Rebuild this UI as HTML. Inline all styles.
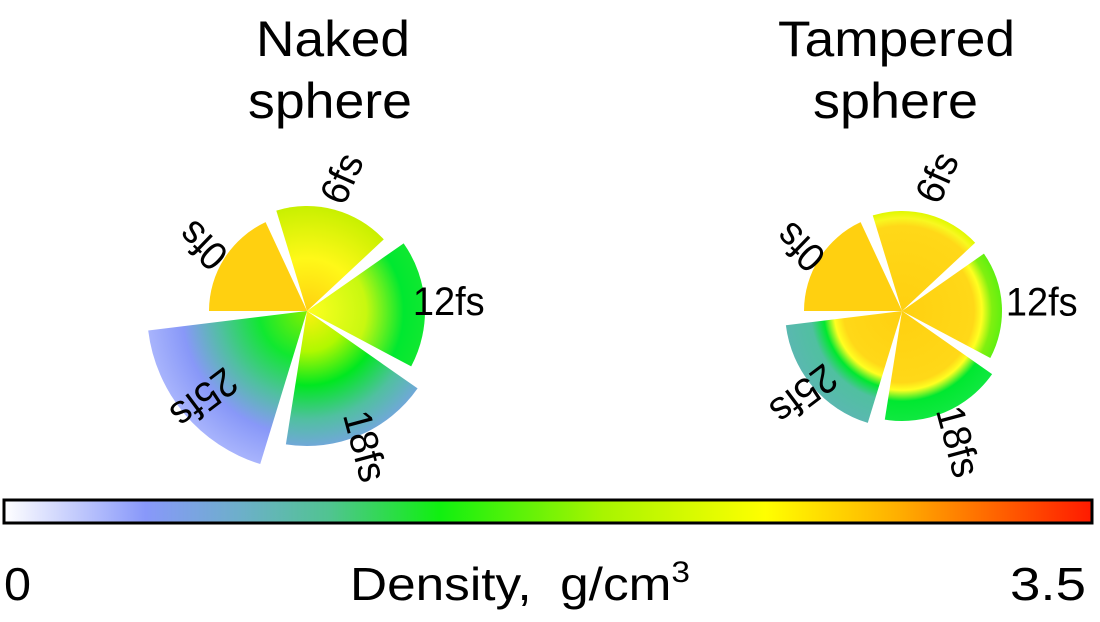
<!DOCTYPE html>
<html><head><meta charset="utf-8"><style>
html,body{margin:0;padding:0;background:#fff;}
svg{display:block;font-family:"Liberation Sans",sans-serif;}
</style></head><body>
<svg id="chart" width="1100" height="622" viewBox="0 0 1100 622" xmlns="http://www.w3.org/2000/svg">
<defs>
<linearGradient id="cbar" x1="0" x2="1" y1="0" y2="0">
<stop offset="0" stop-color="#ffffff"/><stop offset="0.13" stop-color="#8898fa"/><stop offset="0.22" stop-color="#6cb0c8"/><stop offset="0.3" stop-color="#50c490"/><stop offset="0.4" stop-color="#10f010"/><stop offset="0.55" stop-color="#a8f400"/><stop offset="0.7" stop-color="#ffff00"/><stop offset="0.82" stop-color="#ffb000"/><stop offset="1" stop-color="#ff1a00"/>
</linearGradient>
</defs>
<g id="titles" font-size="50">
<text x="256" y="56" textLength="154" lengthAdjust="spacingAndGlyphs">Naked</text>
<text x="248" y="118" textLength="164" lengthAdjust="spacingAndGlyphs">sphere</text>
<text x="778" y="56" textLength="237" lengthAdjust="spacingAndGlyphs">Tampered</text>
<text x="813" y="118" textLength="165" lengthAdjust="spacingAndGlyphs">sphere</text>
</g>
<g id="pies"></g>
<rect x="4" y="500" width="1088" height="23" fill="url(#cbar)" stroke="#000" stroke-width="3"/>
<text x="4" y="600" font-size="46" textLength="27" lengthAdjust="spacingAndGlyphs">0</text>
<text x="350" y="600" font-size="46" xml:space="preserve" textLength="340" lengthAdjust="spacingAndGlyphs">Density,  g/cm<tspan font-size="30" dy="-18">3</tspan></text>
<text x="1010" y="600" font-size="46" textLength="76" lengthAdjust="spacingAndGlyphs">3.5</text>
</svg>
<script>
const times = ["0fs","6fs","12fs","18fs","25fs"];
const startAngles = [180,253,325,35,107];
const endAngles = [245,317,28,99,173];
const nakedRadii = [98,105,118,135,160];
const tamperedRadii = [98,100,100,110,117];
const nakedColors = [
 [[0,"#ffd010"],[1,"#ffd010"]],
 [[0,"#ffd010"],[0.5,"#fff818"],[1,"#c8f000"]],
 [[0,"#ffff20"],[0.5,"#c8f810"],[0.82,"#00e830"],[1,"#10e830"]],
 [[0,"#fff010"],[0.3,"#b0f800"],[0.55,"#00e820"],[0.8,"#50c0a0"],[1,"#70a8d8"]],
 [[0,"#80f000"],[0.3,"#10e830"],[0.55,"#50c0a0"],[0.78,"#8898f8"],[1,"#a8b4fc"]]
];
const tamperedColors = [
 [[0,"#ffd010"],[1,"#ffd010"]],
 [[0,"#ffd010"],[0.85,"#ffd818"],[0.93,"#f8f820"],[1,"#e0f800"]],
 [[0,"#ffd010"],[0.72,"#ffd818"],[0.8,"#ffff20"],[0.9,"#80f010"],[1,"#60f010"]],
 [[0,"#ffd010"],[0.65,"#ffd818"],[0.72,"#ffff20"],[0.82,"#00e830"],[1,"#10e840"]],
 [[0,"#ffd010"],[0.5,"#ffd818"],[0.58,"#ffff20"],[0.67,"#00e830"],[0.78,"#50c0a0"],[1,"#5ab8b0"]]
];
const labelRot = [224,-66,0,75,143];
const ns="http://www.w3.org/2000/svg";
const g=document.getElementById("pies");
const defs=document.querySelector("defs");
function pt(cx,cy,r,a){const t=a*Math.PI/180;return [cx+r*Math.cos(t),cy+r*Math.sin(t)];}
function drawPie(prefix,cx,cy,radii,colors,labelOff){
 for(let i=0;i<times.length;i++){
  const r=radii[i];
  const gid=prefix+"g"+i;
  const rg=document.createElementNS(ns,"radialGradient");
  rg.setAttribute("id",gid);rg.setAttribute("gradientUnits","userSpaceOnUse");
  rg.setAttribute("cx",cx);rg.setAttribute("cy",cy);rg.setAttribute("r",r);
  colors[i].forEach(s=>{const st=document.createElementNS(ns,"stop");st.setAttribute("offset",s[0]);st.setAttribute("stop-color",s[1]);rg.appendChild(st);});
  defs.appendChild(rg);
  let a0=startAngles[i],a1=endAngles[i];let span=a1-a0;if(span<0)span+=360;
  const p0=pt(cx,cy,r,a0),p1=pt(cx,cy,r,a0+span);
  const path=document.createElementNS(ns,"path");
  path.setAttribute("d",`M${cx},${cy}L${p0[0]},${p0[1]}A${r},${r} 0 ${span>180?1:0} 1 ${p1[0]},${p1[1]}Z`);
  path.setAttribute("fill",`url(#${gid})`);
  
  
  g.appendChild(path);
  const mid=a0+span/2;
  const lp=pt(cx,cy,r+labelOff[i],mid);
  const t=document.createElementNS(ns,"text");
  t.textContent=times[i];
  t.setAttribute("font-size","40");
  t.setAttribute("text-anchor","middle");
  t.setAttribute("dominant-baseline","central");
  t.setAttribute("transform",`translate(${lp[0]},${lp[1]}) rotate(${labelRot[i]}) scale(0.95,1)`);
  
  
  g.appendChild(t);
 }
}
drawPie("naked",307,311,nakedRadii,nakedColors,[25,32,24,12,-25]);
drawPie("tampered",902,311,tamperedRadii,tamperedColors,[22,38,40,32,12]);
</script>
</body></html>
